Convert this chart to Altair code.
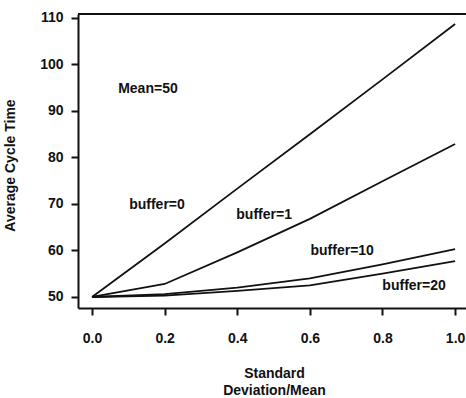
import altair as alt
import pandas as pd

sd = [0.0, 0.2, 0.4, 0.6, 0.8, 1.0]
buf0 = [50, 61.5, 73.3, 85.0, 96.8, 108.7]
buf1 = [50, 52.8, 59.6, 66.8, 74.9, 82.9]
buf10 = [50, 50.6, 52.0, 54.0, 57.0, 60.3]
buf20 = [50, 50.3, 51.3, 52.5, 55.0, 57.7]
series_names = ["buffer=0", "buffer=1", "buffer=10", "buffer=20"]

label_text = ["Mean=50", "buffer=0", "buffer=1", "buffer=10", "buffer=20"]
label_x = [0.154, 0.179, 0.474, 0.689, 0.887]
label_y = [94.8, 69.7, 67.6, 59.9, 52.4]

x_ticks = [0.0, 0.2, 0.4, 0.6, 0.8, 1.0]
y_ticks = [50, 60, 70, 80, 90, 100, 110]

rows = []
for name, vals in zip(series_names, [buf0, buf1, buf10, buf20]):
    for x, y in zip(sd, vals):
        rows.append({"series": name, "sd": x, "ct": y})
df = pd.DataFrame(rows)
lab = pd.DataFrame({"text": label_text, "x": label_x, "y": label_y})

FONT = "Liberation Sans"
INK = "#111111"

xs = alt.Scale(domain=[-0.0386, 1.030], nice=False, zero=False)
ys = alt.Scale(domain=[47.63, 110.86], nice=False, zero=False)

xaxis = alt.Axis(values=x_ticks, format=".1f", title=["Standard", "Deviation/Mean"],
                 labelPadding=16, titleY=69, titleBaseline="alphabetic",
                 titleLineHeight=17, titleX=196, titleAlign="center")
yaxis = alt.Axis(values=y_ticks, title="Average Cycle Time", labelPadding=8,
                 titleAngle=270, titleX=-68, titleY=151, titleAlign="center",
                 titleBaseline="middle")

lines = alt.Chart(df).mark_line(color=INK, strokeWidth=1.8).encode(
    x=alt.X("sd:Q", scale=xs, axis=xaxis),
    y=alt.Y("ct:Q", scale=ys, axis=yaxis),
    detail="series:N",
)

texts = alt.Chart(lab).mark_text(font=FONT, fontSize=14, fontWeight="bold",
                                 color=INK, align="center", baseline="middle").encode(
    x=alt.X("x:Q", scale=xs),
    y=alt.Y("y:Q", scale=ys),
    text="text:N",
)

top = alt.Chart(pd.DataFrame({"a": [0]})).mark_rule(color=INK, strokeWidth=2).encode(
    x=alt.value(0), x2=alt.value(388), y=alt.value(0)
)

chart = alt.layer(lines, texts, top).properties(
    width=388, height=294,
    autosize=alt.AutoSizeParams(type="none"),
    padding={"left": 78, "top": 14, "right": 0, "bottom": 90},
).configure_view(stroke=None).configure_axis(
    grid=False, domainColor=INK, domainWidth=2, tickColor=INK, tickWidth=2,
    tickSize=7, labelFont=FONT, labelFontSize=14, labelFontWeight="bold",
    labelColor=INK, titleFont=FONT, titleFontSize=14, titleFontWeight="bold",
    titleColor=INK,
)

chart.save("out.html", embed_options={"renderer": "svg", "actions": False})
